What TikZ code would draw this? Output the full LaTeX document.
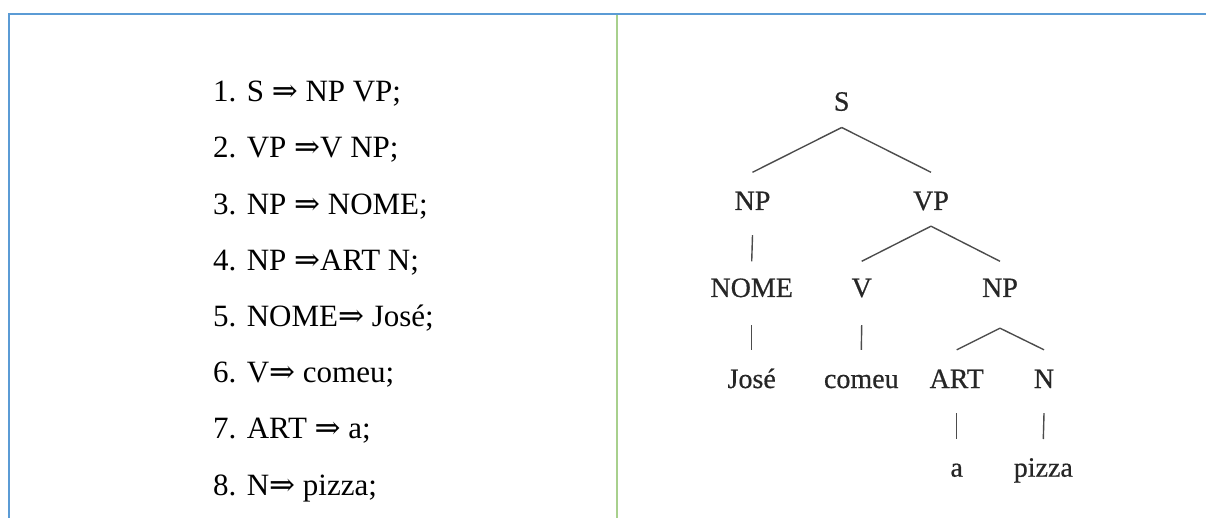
\documentclass[tikz,border=0pt]{standalone}
\usepackage{fontspec}
\setmainfont{Liberation Serif}
\newfontfamily\arwfont{DejaVu Serif}
\newfontfamily\treefont[FakeBold=0.6]{Liberation Serif}
\newcommand{\myarrow}{{\arwfont ⇒}}
\begin{document}
\begin{tikzpicture}[x=1pt,y=-1pt,
  frameblue/.style={draw={rgb,255:red,91;green,155;blue,213}, line width=1.8pt},
  framegreen/.style={draw={rgb,255:red,168;green,208;blue,141}, line width=1.8pt},
  rule/.style={font=\fontsize{31}{31}\selectfont, anchor=base west, inner sep=0pt},
  tn/.style={font=\treefont\fontsize{28}{28}\selectfont, text=black!85, inner sep=0pt, text height=18.5pt, text depth=0pt, anchor=base},
  tl/.style={draw=black!70, line width=1.4pt}]
\useasboundingbox (0,0) rectangle (1206,518);
% frame
\coordinate (tl0) at (9.2,518);
\coordinate (tl1) at (9.2,14);
\coordinate (tr) at (1206,14);
\coordinate (gm0) at (617,14.9);
\coordinate (gm1) at (617,518);
\draw[frameblue] (tl0) -- (tl1) -- (tr);
\draw[framegreen] (gm0) -- (gm1);
% rules
\node[rule] (r1) at (213,101.7) {1. S \myarrow\ NP VP;};
\node[rule] (r2) at (213,157.9) {2. VP \myarrow V NP;};
\node[rule] (r3) at (213,214.1) {3. NP \myarrow\ NOME;};
\node[rule] (r4) at (213,270.3) {4. NP \myarrow ART N;};
\node[rule] (r5) at (213,326.5) {5. NOME\myarrow\ José;};
\node[rule] (r6) at (213,382.7) {6. V\myarrow\ comeu;};
\node[rule] (r7) at (213,438.9) {7. ART \myarrow\ a;};
\node[rule] (r8) at (213,495.1) {8. N\myarrow\ pizza;};
% tree
\node[tn] (S) at (841.7,110.7) {S};
\node[tn] (NP) at (752.5,210) {NP};
\node[tn] (VP) at (931,210) {VP};
\node[tn] (NOME) at (751.7,297) {NOME};
\node[tn] (V) at (861.7,297) {V};
\node[tn] (NPb) at (1000,297) {NP};
\node[tn] (Jose) at (751.7,388) {José};
\node[tn] (comeu) at (861.3,388) {comeu};
\node[tn] (ART) at (956.7,388) {ART};
\node[tn] (N) at (1044,388) {N};
\node[tn] (a) at (956.7,476.7) {a};
\node[tn] (pizza) at (1043.3,476.7) {pizza};
\draw[tl] ([yshift=-16.6pt]S.south) -- ([yshift=19pt]NP.north);
\draw[tl] ([yshift=-16.6pt]S.south) -- ([yshift=19pt]VP.north);
\draw[tl] ([yshift=-25pt]NP.south) -- ([yshift=17pt]NOME.north);
\draw[tl] ([yshift=-16pt]VP.south) -- ([yshift=17pt]V.north);
\draw[tl] ([yshift=-16pt]VP.south) -- ([yshift=17pt]NPb.north);
\draw[tl] ([yshift=-28pt]NOME.south) -- ([yshift=19.5pt]Jose.north);
\draw[tl] ([yshift=-28pt]V.south) -- ([yshift=19.5pt]comeu.north);
\draw[tl] ([yshift=-31pt]NPb.south) -- ([yshift=19.5pt]ART.north);
\draw[tl] ([yshift=-31pt]NPb.south) -- ([yshift=19.5pt]N.north);
\draw[tl] ([yshift=-25pt]ART.south) -- ([yshift=19pt]a.north);
\draw[tl] ([yshift=-25pt]N.south) -- ([yshift=19pt]pizza.north);
\end{tikzpicture}
\end{document}
